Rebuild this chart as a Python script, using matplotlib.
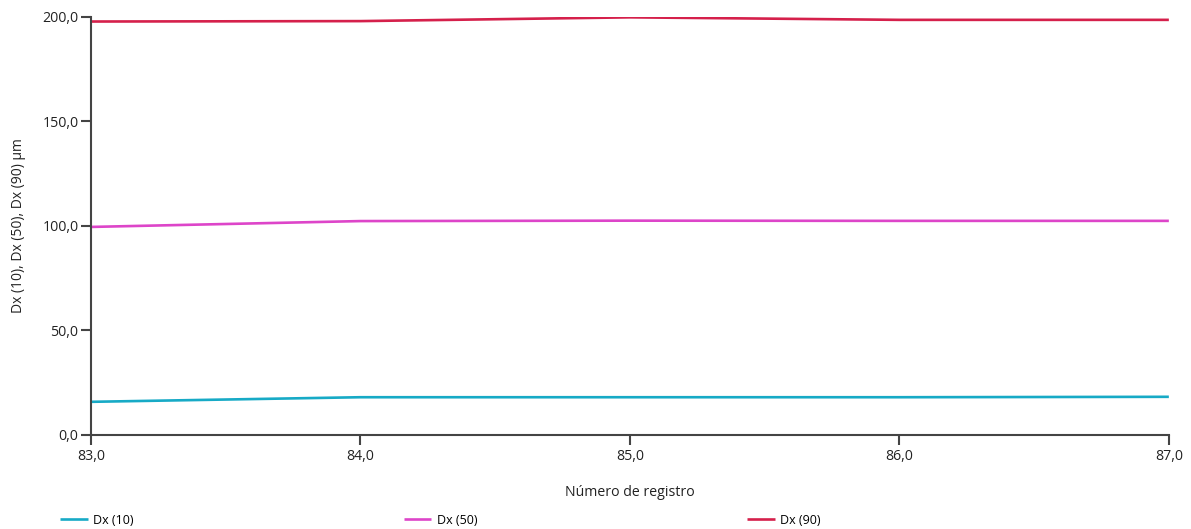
import matplotlib
matplotlib.use("Agg")
import matplotlib.pyplot as plt
from matplotlib.ticker import FuncFormatter

registro = [83.0, 84.0, 85.0, 86.0, 87.0]
dx10 = [15.8, 18.0, 18.0, 18.0, 18.2]
dx50 = [99.5, 102.3, 102.5, 102.4, 102.4]
dx90 = [197.8, 198.0, 199.8, 198.6, 198.6]

series_labels = ["Dx (10)", "Dx (50)", "Dx (90)"]
colors = ["#17aac6", "#dd45c9", "#d5204b"]
y_ticks = [0, 50, 100, 150, 200]
x_ticks = [83, 84, 85, 86, 87]

plt.rcParams["font.family"] = ["Open Sans", "DejaVu Sans"]

fig = plt.figure(figsize=(11.91, 5.29), dpi=100)
ax = fig.add_axes([0.0764, 0.178, 0.905, 0.790])

handles = []
for vals, lab, c in zip([dx10, dx50, dx90], series_labels, colors):
    h, = ax.plot(registro, vals, color=c, lw=1.9, label=lab, solid_capstyle="butt")
    handles.append(h)

ax.set_xlim(83, 87)
ax.set_ylim(0, 200)
ax.set_xticks(x_ticks)
ax.set_yticks(y_ticks)
fmt = FuncFormatter(lambda v, p: f"{v:.1f}".replace(".", ","))
ax.xaxis.set_major_formatter(fmt)
ax.yaxis.set_major_formatter(fmt)

for s in ["top", "right"]:
    ax.spines[s].set_visible(False)
for s in ["left", "bottom"]:
    ax.spines[s].set_color("#444444")
    ax.spines[s].set_linewidth(1.5)
ax.tick_params(axis="both", direction="out", length=7, width=1.5, color="#444444",
               labelsize=10.2, labelcolor="#222222", pad=2)
ax.tick_params(axis="x", pad=3)

ax.set_xlabel("Número de registro", fontsize=10.2, color="#222222", labelpad=15)
ax.set_ylabel("Dx (10), Dx (50), Dx (90) µm", fontsize=10, color="#222222", labelpad=12)

fig.legend(handles=handles, labels=series_labels, loc="lower left",
           bbox_to_anchor=(0.041, -0.017), ncol=3, frameon=False, fontsize=9,
           handlelength=2.2, handletextpad=0.45, columnspacing=21.6)

fig.savefig("out.png", dpi=100)
